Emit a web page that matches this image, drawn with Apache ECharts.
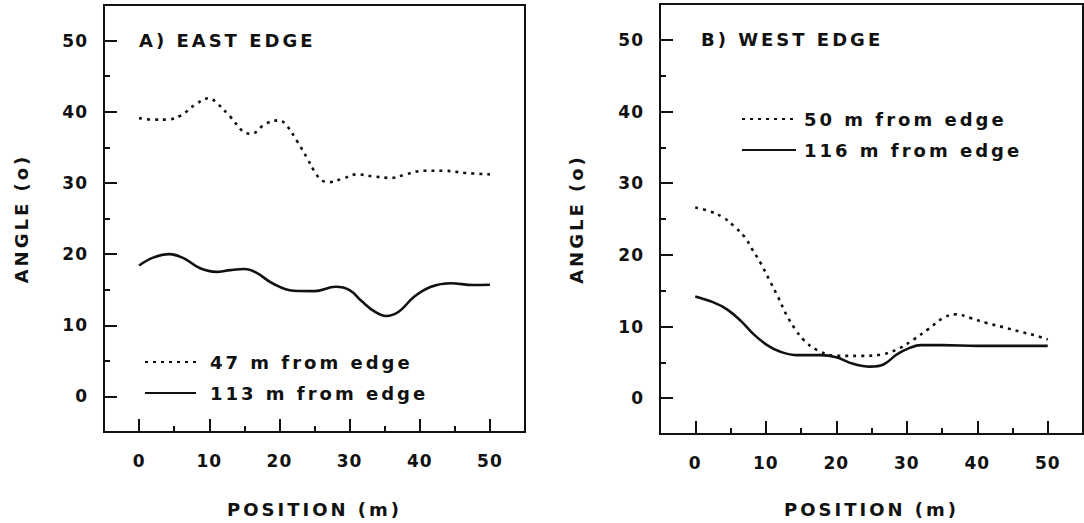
<!DOCTYPE html>
<html>
<head>
<meta charset="utf-8">
<script src="https://cdn.jsdelivr.net/npm/echarts@6.0.0/dist/echarts.min.js"></script>
<style>
  html, body { margin: 0; padding: 0; background: #fff; }
  #chart { width: 1084px; height: 523px; }
  #chart text { letter-spacing: 3px; }
  #chart text[style*="17px"] { letter-spacing: 1px; }
</style>
</head>
<body>
<div id="chart"></div>
<script>
// ---- Data ----
const panelTitles = ['A) EAST EDGE', 'B) WEST EDGE'];
const xAxisName = 'POSITION (m)';
const yAxisName = 'ANGLE (o)';
const tickLabels = [0, 10, 20, 30, 40, 50];

// Panel A: East edge
const east47Name = '47 m from edge';
const east47X = [0, 2, 4, 6, 8, 10, 11, 13, 15, 16, 18, 20, 21, 22.5, 24, 25, 26, 27, 29, 31, 33.5, 36, 38, 40.5, 43.5, 46.5, 50];
const east47Y = [39.1, 38.9, 38.9, 39.5, 41.0, 41.9, 41.3, 39.3, 37.1, 36.9, 38.3, 38.8, 38.1, 35.9, 33.4, 31.6, 30.4, 30.1, 30.6, 31.2, 30.9, 30.7, 31.2, 31.7, 31.7, 31.4, 31.2];
const east113Name = '113 m from edge';
const east113X = [0, 2, 4.3, 6.4, 8.7, 11, 13, 15, 16.7, 19, 22, 25, 28, 30, 31.7, 33.6, 35.2, 37, 39.2, 41.6, 44.4, 47.6, 50];
const east113Y = [18.4, 19.5, 20.0, 19.4, 18.0, 17.5, 17.75, 17.9, 17.4, 15.9, 14.85, 14.8, 15.4, 14.95, 13.4, 11.9, 11.3, 11.9, 14.0, 15.4, 15.9, 15.65, 15.7];

// Panel B: West edge
const west50Name = '50 m from edge';
const west50X = [0, 2, 4, 5.5, 7, 8, 9.3, 10.5, 11.7, 13, 14.2, 15.4, 17.3, 20, 23.4, 26.5, 29, 31, 33, 35.2, 37, 39, 41.3, 43.7, 46, 48.4, 50];
const west50Y = [26.6, 26.1, 25.2, 24.0, 22.5, 20.9, 18.8, 16.5, 14.2, 11.5, 9.6, 8.1, 6.7, 5.9, 5.9, 6.1, 7.0, 8.2, 9.6, 11.2, 11.7, 11.2, 10.5, 9.9, 9.3, 8.7, 8.2];
const west116Name = '116 m from edge';
const west116X = [0, 2.5, 4.5, 6.5, 8.3, 10.2, 12, 14.5, 17.8, 20, 22.4, 24.8, 26.7, 28.6, 30.5, 32, 35, 40, 45, 50];
const west116Y = [14.2, 13.4, 12.4, 10.75, 8.9, 7.4, 6.5, 6.0, 6.0, 5.7, 4.8, 4.4, 4.7, 6.1, 7.05, 7.4, 7.4, 7.3, 7.3, 7.3];

// ---- Build chart ----
const INK = '#111';
const FONT = 'DejaVu Sans';
const zip = (xs, ys) => xs.map((x, i) => [x, ys[i]]);

const grids = [
  { left: 104, top: 5, width: 421, height: 427 },
  { left: 660, top: 4, width: 423, height: 433 }
];

// Ticks are counted from min (-5) every 10 -> short ticks at -5,5,...,55;
// minor ticks split each interval in two -> long ticks at 0,10,...,50.
function makeAxis(kind, gi, labelMargin, nameGap) {
  return {
    type: 'value', gridIndex: gi, min: -5, max: 55, interval: 10,
    position: kind === 'x' ? 'bottom' : 'left',
    name: kind === 'x' ? xAxisName : yAxisName, nameLocation: 'middle', nameGap: nameGap,
    nameTextStyle: { fontSize: 18, fontWeight: 'bold', color: INK, fontFamily: FONT },
    axisLine: { show: true, onZero: false, lineStyle: { color: INK, width: 2 } },
    axisTick: { show: true, inside: true, length: 6, lineStyle: { color: INK, width: 2 } },
    minorTick: { show: true, splitNumber: 2, length: 13, lineStyle: { color: INK, width: 2 } },
    axisLabel: { show: true, customValues: tickLabels, margin: labelMargin, fontSize: 17, fontWeight: 'bold', color: INK, fontFamily: FONT },
    splitLine: { show: false },
    minorSplitLine: { show: false }
  };
}

const dotted = { color: INK, width: 2.6, type: [3, 5] };
const solid = { color: INK, width: 2.6, type: 'solid' };

function lineSeries(name, xs, ys, axisIdx, style) {
  return {
    type: 'line', name: name, xAxisIndex: axisIdx, yAxisIndex: axisIdx,
    data: zip(xs, ys), smooth: 0.4, symbol: 'none', showSymbol: false,
    lineStyle: style, itemStyle: { color: INK }, silent: true
  };
}

const legendItemStyle = { color: 'transparent', borderColor: 'transparent', borderWidth: 0, opacity: 0 };

const option = {
  animation: false,
  backgroundColor: '#fff',
  textStyle: { fontFamily: FONT, fontWeight: 'bold', color: INK },
  title: [
    { text: panelTitles[0], left: 134, top: 26, textStyle: { fontSize: 18, fontWeight: 'bold', color: INK, fontFamily: FONT } },
    { text: panelTitles[1], left: 696, top: 25, textStyle: { fontSize: 18, fontWeight: 'bold', color: INK, fontFamily: FONT } }
  ],
  grid: grids.map(g => Object.assign({ show: true, borderColor: INK, borderWidth: 2, backgroundColor: 'transparent' }, g)),
  xAxis: [makeAxis('x', 0, 20, 68), makeAxis('x', 1, 20, 66)],
  yAxis: [makeAxis('y', 0, 16, 74), makeAxis('y', 1, 16, 75)],
  legend: [
    {
      data: [east47Name, east113Name], orient: 'vertical', left: 139, top: 348,
      itemWidth: 51, itemHeight: 14, itemGap: 13, itemStyle: legendItemStyle,
      textStyle: { fontSize: 18, fontWeight: 'bold', color: INK, fontFamily: FONT, padding: [0, 0, 0, 9] },
      selectedMode: false
    },
    {
      data: [west50Name, west116Name], orient: 'vertical', left: 736, top: 105,
      itemWidth: 54, itemHeight: 14, itemGap: 13, itemStyle: legendItemStyle,
      textStyle: { fontSize: 18, fontWeight: 'bold', color: INK, fontFamily: FONT, padding: [0, 0, 0, 3] },
      selectedMode: false
    }
  ],
  series: [
    lineSeries(east47Name, east47X, east47Y, 0, dotted),
    lineSeries(east113Name, east113X, east113Y, 0, solid),
    lineSeries(west50Name, west50X, west50Y, 1, dotted),
    lineSeries(west116Name, west116X, west116Y, 1, solid)
  ]
};

const chart = echarts.init(document.getElementById('chart'), null, { renderer: 'svg' });
chart.setOption(option);
</script>
</body>
</html>
